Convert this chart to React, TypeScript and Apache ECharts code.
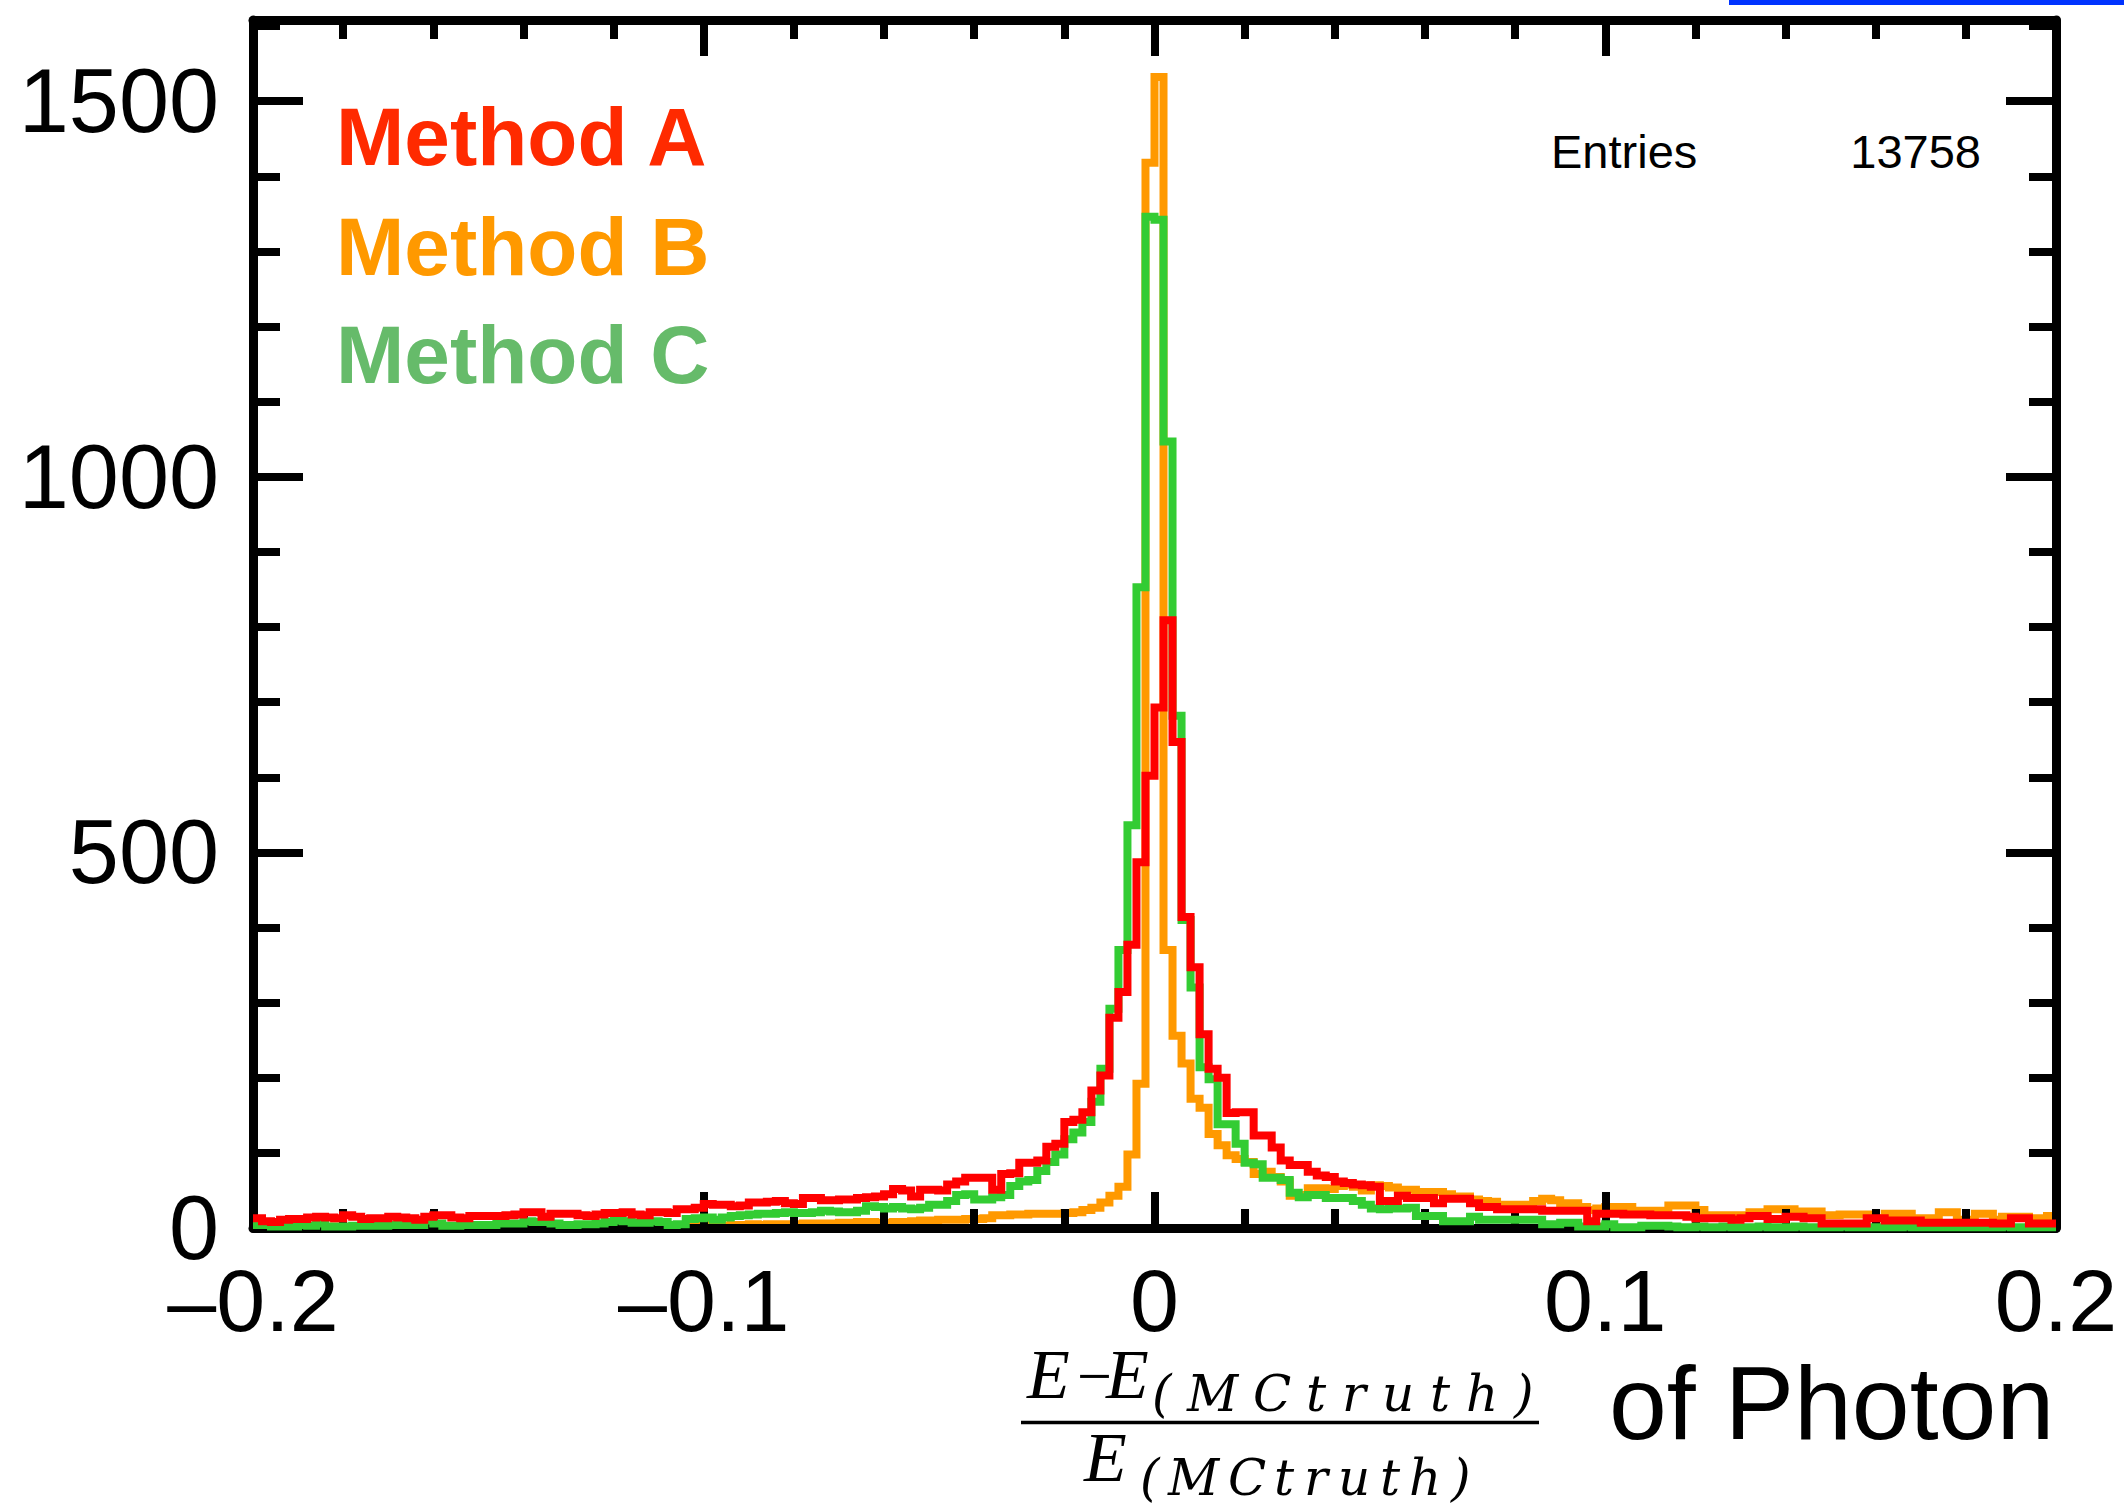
import React, { useEffect, useRef } from "react";
import * as echarts from "echarts";

// ---------- data ----------
const X_MIN = -0.2;
const X_MAX = 0.2;
const BIN_WIDTH = 0.002;
const Y_MAX = 1608;

const xTickLabels = ["\u20130.2", "\u20130.1", "0", "0.1", "0.2"];
const yTickLabels = ["0", "500", "1000", "1500"];
const legendLabels = ["Method A", "Method B", "Method C"];
const entriesLabel = "Entries";
const entriesValue = "13758";

// Method A (red), 200 bins from -0.2 to 0.2
const methodA = [
  13, 9, 8, 11, 12, 12, 14, 15, 14, 13,
  17, 15, 12, 13, 13, 15, 14, 13, 11, 15,
  17, 17, 14, 13, 16, 16, 16, 16, 17, 18,
  21, 21, 15, 19, 19, 19, 17, 16, 18, 20,
  20, 21, 18, 17, 21, 21, 20, 25, 25, 27,
  32, 31, 31, 29, 30, 34, 34, 35, 36, 33,
  32, 40, 40, 37, 37, 38, 38, 40, 41, 42,
  45, 52, 50, 42, 51, 51, 50, 58, 62, 67,
  67, 67, 51, 72, 73, 87, 87, 90, 108, 112,
  141, 144, 154, 183, 203, 280, 314, 377, 487, 602,
  693, 809, 647, 414, 347, 258, 212, 200, 153, 154,
  154, 123, 123, 107, 90, 84, 84, 75, 70, 68,
  62, 60, 58, 57, 55, 36, 36, 43, 40, 40,
  40, 33, 39, 39, 39, 33, 28, 28, 25, 25,
  25, 25, 25, 23, 23, 23, 23, 23, 9, 19,
  19, 19, 18, 18, 18, 17, 17, 17, 17, 15,
  13, 13, 13, 13, 11, 13, 16, 16, 12, 12,
  15, 15, 13, 13, 6, 6, 6, 6, 6, 13,
  13, 10, 10, 10, 10, 7, 7, 7, 7, 7,
  7, 7, 7, 6, 6, 13, 13, 6, 6, 6,
];

// Method B (orange)
const methodB = [
  1, 1, 2, 1, 1, 2, 1, 1, 1, 2,
  1, 1, 2, 1, 2, 1, 1, 2, 1, 1,
  2, 1, 2, 2, 1, 2, 2, 1, 2, 2,
  2, 2, 3, 2, 2, 3, 2, 3, 2, 3,
  3, 2, 3, 3, 3, 3, 4, 3, 4, 3,
  4, 4, 3, 4, 4, 5, 4, 5, 5, 5,
  5, 6, 6, 6, 6, 7, 7, 8, 8, 7,
  7, 8, 8, 9, 10, 10, 11, 11, 11, 12,
  12, 13, 17, 17, 18, 18, 19, 19, 19, 19,
  20, 21, 24, 27, 34, 43, 55, 98, 192, 1418,
  1532, 370, 256, 219, 172, 160, 125, 110, 97, 92,
  88, 72, 75, 68, 62, 43, 44, 53, 53, 52,
  56, 58, 55, 50, 57, 56, 54, 51, 51, 48,
  48, 48, 45, 42, 42, 38, 36, 35, 31, 31,
  31, 31, 36, 39, 37, 33, 33, 28, 24, 26,
  28, 28, 28, 23, 23, 23, 23, 30, 30, 30,
  24, 17, 17, 17, 17, 17, 21, 21, 25, 25,
  25, 22, 22, 22, 17, 17, 18, 18, 18, 18,
  13, 19, 19, 19, 13, 13, 13, 21, 21, 11,
  11, 19, 19, 11, 15, 15, 15, 13, 13, 16,
];

// Method C (green)
const methodC = [
  4, 4, 2, 2, 2, 4, 3, 6, 2, 2,
  2, 3, 3, 3, 3, 4, 4, 4, 4, 10,
  6, 3, 3, 4, 4, 4, 4, 6, 6, 6,
  9, 8, 8, 6, 4, 4, 5, 5, 6, 8,
  10, 9, 7, 7, 9, 8, 4, 5, 12, 13,
  14, 11, 14, 16, 17, 18, 19, 19, 20, 21,
  20, 20, 21, 23, 22, 21, 21, 23, 29, 28,
  26, 28, 26, 25, 27, 31, 31, 36, 44, 45,
  38, 38, 41, 44, 56, 62, 64, 76, 88, 98,
  118, 127, 141, 168, 212, 292, 370, 536, 853, 1346,
  1342, 1047, 682, 410, 320, 214, 198, 138, 138, 112,
  87, 85, 67, 67, 64, 47, 41, 44, 44, 40,
  40, 40, 36, 31, 26, 25, 26, 26, 27, 16,
  16, 16, 9, 9, 9, 15, 11, 11, 11, 11,
  11, 11, 11, 5, 5, 7, 7, 2, 2, 2,
  5, 1, 1, 1, 3, 3, 3, 2, 1, 1,
  2, 1, 1, 2, 1, 1, 1, 2, 1, 1,
  1, 2, 1, 1, 1, 1, 2, 1, 1, 1,
  1, 1, 1, 2, 1, 1, 1, 1, 1, 1,
  1, 1, 1, 1, 2, 1, 1, 1, 1, 1,
];

// ---------- helpers ----------
function toSteps(values: number[]): number[][] {
  const pts = values.map((v, i) => [X_MIN + i * BIN_WIDTH, v]);
  pts.push([X_MAX, values[values.length - 1]]);
  return pts;
}

const BLACK = "#000000";
const SANS = '"Liberation Sans", Arial, Helvetica, sans-serif';
const SERIF = '"Liberation Serif", "Times New Roman", serif';
const SUB_SERIF = '"DejaVu Serif", "Liberation Serif", serif';

function txt(text: string, x: number, y: number, font: string, fill: string, align = "left", z = 50) {
  return {
    type: "text",
    x,
    y,
    z,
    silent: true,
    style: {
      text,
      font,
      fill,
      align,
      verticalAlign: "middle",
      textAlign: align,
      textVerticalAlign: "middle",
    },
  };
}

// subscript "(MCtruth)" glyphs laid out one by one (math-italic spacing)
const SUB_GLYPHS = ["(", "M", "C", "t", "r", "u", "t", "h", ")"];
const NUM_SUB_X = [1152, 1187, 1253, 1306, 1342, 1382, 1430, 1466, 1514];
const DEN_SUB_X = [1140, 1168, 1228, 1274, 1304, 1338, 1380, 1409, 1451];

export default function App() {
  const ref = useRef<HTMLDivElement>(null);

  useEffect(() => {
    if (!ref.current) return;
    const chart = echarts.init(ref.current, null, { renderer: "svg" });

    const tickLine = { color: BLACK, width: 8, cap: "butt" };
    const xLabelFmt = (v: number) => {
      const idx = Math.round((v - X_MIN) / 0.1);
      return Math.abs(X_MIN + idx * 0.1 - v) < 1e-6 ? xTickLabels[idx] ?? "" : "";
    };
    const yLabelFmt = (v: number) => {
      const idx = Math.round(v / 500);
      return Math.abs(idx * 500 - v) < 1e-6 ? yTickLabels[idx] ?? "" : "";
    };

    const baseX = {
      type: "value",
      min: X_MIN,
      max: X_MAX,
      interval: 0.1,
      z: 2,
      splitLine: { show: false },
      axisLine: { show: true, onZero: false, lineStyle: { color: BLACK, width: 9 } },
      axisTick: { show: true, inside: true, length: 36, lineStyle: tickLine },
      minorTick: { show: true, splitNumber: 5, length: 19, lineStyle: tickLine },
      minorSplitLine: { show: false },
    };

    const majorY = {
      type: "value",
      min: 0,
      max: Y_MAX,
      interval: 500,
      z: 2,
      splitLine: { show: false },
      axisLine: { show: true, onZero: false, lineStyle: { color: BLACK, width: 9 } },
      axisTick: { show: true, inside: true, length: 50, lineStyle: tickLine },
    };
    const minorY = {
      type: "value",
      min: 0,
      max: Y_MAX,
      interval: 100,
      z: 2,
      splitLine: { show: false },
      axisLine: { show: false, onZero: false },
      axisLabel: { show: false },
      axisTick: { show: true, inside: true, length: 27, lineStyle: tickLine },
    };

    const lineSeries = (name: string, values: number[], color: string, z: number) => ({
      type: "line",
      name,
      data: toSteps(values),
      step: "end",
      symbol: "none",
      silent: true,
      z,
      xAxisIndex: 0,
      yAxisIndex: 0,
      lineStyle: { color, width: 8, cap: "butt", join: "miter" },
    });

    const subFont = `italic 50px ${SUB_SERIF}`;
    const mainFont = `italic 70px ${SERIF}`;

    chart.setOption({
      animation: false,
      backgroundColor: "#ffffff",
      grid: { left: 253, right: 68, top: 20, bottom: 275, containLabel: false },
      xAxis: [
        {
          ...baseX,
          position: "bottom",
          axisLabel: {
            show: true,
            margin: 28,
            fontSize: 88,
            fontFamily: SANS,
            color: BLACK,
            formatter: xLabelFmt,
            showMinLabel: true,
            showMaxLabel: true,
          },
        },
        { ...baseX, position: "top", axisLabel: { show: false } },
      ],
      yAxis: [
        {
          ...majorY,
          position: "left",
          axisLabel: {
            show: true,
            margin: 34,
            fontSize: 90,
            fontFamily: SANS,
            color: BLACK,
            formatter: yLabelFmt,
          },
        },
        { ...minorY, position: "left" },
        { ...majorY, position: "right", axisLabel: { show: false } },
        { ...minorY, position: "right" },
      ],
      series: [
        lineSeries(legendLabels[1], methodB, "#FF9900", 1),
        lineSeries(legendLabels[2], methodC, "#33CC33", 3),
        lineSeries(legendLabels[0], methodA, "#FF0000", 4),
      ],
      graphic: [
        // blue bar at top right (cropped element in the original)
        { type: "rect", x: 1729, y: 0, z: 50, silent: true, shape: { width: 395, height: 5 }, style: { fill: "#0033FF" } },
        // legend texts
        txt(legendLabels[0], 336, 136, `bold 82px ${SANS}`, "#FF2A00"),
        txt(legendLabels[1], 336, 246, `bold 82px ${SANS}`, "#FF9900"),
        txt(legendLabels[2], 336, 354, `bold 82px ${SANS}`, "#66BB6A"),
        // stats
        txt(entriesLabel, 1551, 151, `47px ${SANS}`, BLACK),
        txt(entriesValue, 1981, 151, `47px ${SANS}`, BLACK, "right"),
        // x title: fraction numerator
        txt("E", 1027, 1374, mainFont, BLACK),
        txt("\u2212", 1077, 1376, `62px ${SERIF}`, BLACK),
        txt("E", 1106, 1374, mainFont, BLACK),
        ...SUB_GLYPHS.map((g, i) => txt(g, NUM_SUB_X[i], 1394, subFont, BLACK)),
        // fraction bar
        { type: "line", z: 50, silent: true, shape: { x1: 1021, y1: 1422.5, x2: 1539, y2: 1422.5 }, style: { stroke: BLACK, lineWidth: 3.5 } },
        // denominator
        txt("E", 1084, 1457, mainFont, BLACK),
        ...SUB_GLYPHS.map((g, i) => txt(g, DEN_SUB_X[i], 1478, subFont, BLACK)),
        // "of Photon"
        txt("of Photon", 1609, 1403, `104px ${SANS}`, BLACK),
      ],
    });

    return () => chart.dispose();
  }, []);

  return (
    <div
      ref={ref}
      style={{ position: "fixed", left: 0, top: 0, width: 2124, height: 1503, background: "#fff" }}
    />
  );
}
